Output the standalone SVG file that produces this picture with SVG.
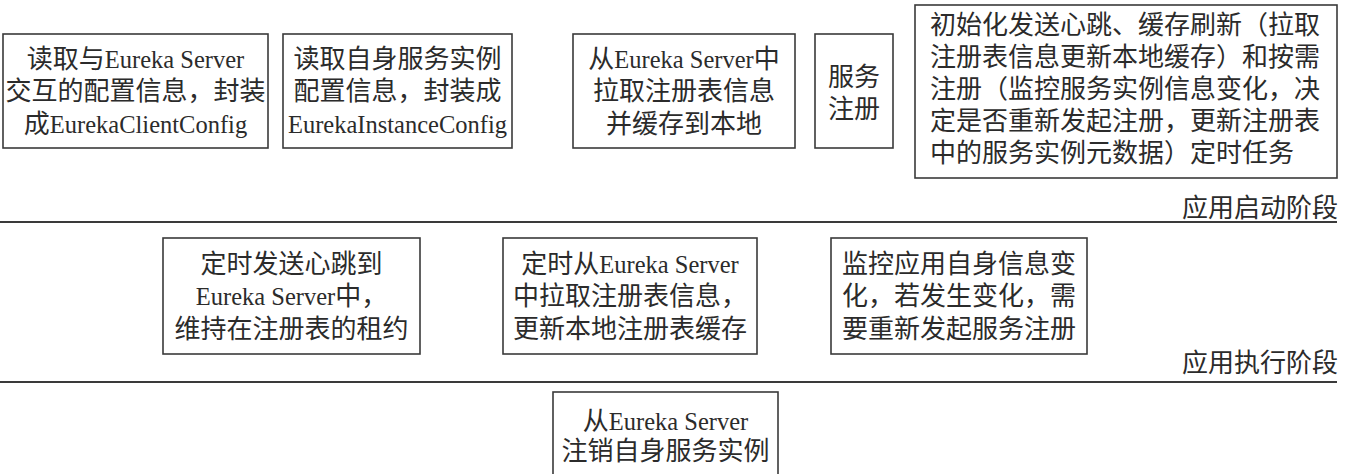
<svg xmlns="http://www.w3.org/2000/svg" width="1345" height="474" viewBox="0 0 1345 474">
<style>
  .box { fill: #ffffff; stroke: #3a3a3a; stroke-width: 1.6; }
  .sep { stroke: #3a3a3a; stroke-width: 2; fill: none; }
  text { font-family: "Liberation Serif", "Noto Sans CJK SC", serif; font-size: 26px; fill: #2b2b2b; font-variant-ligatures: none; }
  .c { text-anchor: middle; }
  .l { text-anchor: start; }
  .r { text-anchor: end; }
  .lat { font-family: "Liberation Serif", serif; font-size: 24.5px; font-variant-ligatures: none; }
</style>
<rect width="1345" height="474" fill="#ffffff"/>

<g id="separators">
  <line class="sep" x1="0" y1="222" x2="1337" y2="222"/>
  <line class="sep" x1="0" y1="382" x2="1337" y2="382"/>
</g>

<g id="stage-start">
  <text class="r" x="1338" y="217">应用启动阶段</text>
</g>
<g id="stage-run">
  <text class="r" x="1338" y="372">应用执行阶段</text>
</g>

<g id="node-client-config">
  <rect class="box" x="3" y="34" width="265" height="114"/>
  <text class="c" x="135.5" y="68">读取与<tspan class="lat">Eureka Server</tspan></text>
  <text class="c" x="135.5" y="100">交互的配置信息，封装</text>
  <text class="c" x="135.5" y="133">成<tspan class="lat">EurekaClientConfig</tspan></text>
</g>

<g id="node-instance-config">
  <rect class="box" x="283" y="34" width="229" height="114"/>
  <text class="c" x="397.5" y="68">读取自身服务实例</text>
  <text class="c" x="397.5" y="100">配置信息，封装成</text>
  <text class="c" x="397.5" y="133"><tspan class="lat">EurekaInstanceConfig</tspan></text>
</g>

<g id="node-fetch-registry">
  <rect class="box" x="573" y="34" width="222" height="114"/>
  <text class="c" x="684" y="68">从<tspan class="lat">Eureka Server</tspan>中</text>
  <text class="c" x="684" y="100">拉取注册表信息</text>
  <text class="c" x="684" y="133">并缓存到本地</text>
</g>

<g id="node-register">
  <rect class="box" x="815" y="34" width="78" height="114"/>
  <text class="c" x="854" y="85.5">服务</text>
  <text class="c" x="854" y="117.5">注册</text>
</g>

<g id="node-init-tasks">
  <rect class="box" x="915" y="5" width="422" height="173"/>
  <text class="l" x="930" y="33.5">初始化发送心跳、缓存刷新（拉取</text>
  <text class="l" x="930" y="65.5">注册表信息更新本地缓存）和按需</text>
  <text class="l" x="930" y="97.5">注册（监控服务实例信息变化，决</text>
  <text class="l" x="930" y="129.5">定是否重新发起注册，更新注册表</text>
  <text class="l" x="930" y="161.5">中的服务实例元数据）定时任务</text>
</g>

<g id="node-heartbeat">
  <rect class="box" x="163" y="238" width="257" height="116"/>
  <text class="c" x="291.5" y="272.5">定时发送心跳到</text>
  <text class="c" x="291.5" y="305"><tspan class="lat">Eureka Server</tspan>中，</text>
  <text class="c" x="291.5" y="337.5">维持在注册表的租约</text>
</g>

<g id="node-refresh">
  <rect class="box" x="503" y="238" width="254" height="116"/>
  <text class="c" x="630" y="272.5">定时从<tspan class="lat">Eureka Server</tspan></text>
  <text class="c" x="630" y="305">中拉取注册表信息，</text>
  <text class="c" x="630" y="337.5">更新本地注册表缓存</text>
</g>

<g id="node-monitor">
  <rect class="box" x="831" y="238" width="256" height="116"/>
  <text class="c" x="959" y="272.5">监控应用自身信息变</text>
  <text class="c" x="959" y="305">化，若发生变化，需</text>
  <text class="c" x="959" y="337.5">要重新发起服务注册</text>
</g>

<g id="node-deregister">
  <rect class="box" x="553" y="392" width="225" height="100"/>
  <text class="c" x="665.5" y="430">从<tspan class="lat">Eureka Server</tspan></text>
  <text class="c" x="665.5" y="460">注销自身服务实例</text>
</g>

<g id="connectors"></g>
</svg>
